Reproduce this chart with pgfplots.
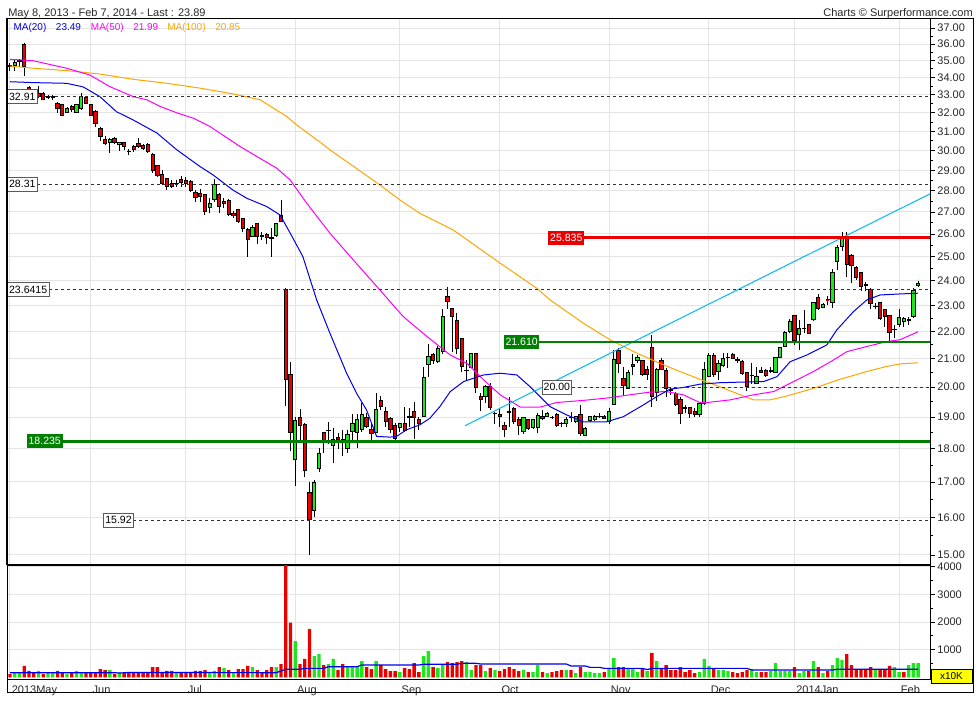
\documentclass[border=0pt]{standalone}
\usepackage{fontspec}
\setmainfont{Liberation Sans}
\usepackage{pgfplots}
\usepackage{pgfplotstable}
\pgfplotsset{compat=1.18}

\definecolor{upg}{RGB}{30,230,30}
\definecolor{dnr}{RGB}{235,0,0}
\definecolor{redline}{RGB}{235,0,0}
\definecolor{ma20}{RGB}{0,0,235}
\definecolor{ma50}{RGB}{255,0,255}
\definecolor{ma100}{RGB}{255,165,0}
\definecolor{cyanl}{RGB}{0,185,245}
\definecolor{gline}{RGB}{0,128,0}
\definecolor{gridc}{RGB}{228,228,228}
\definecolor{dashc}{RGB}{50,50,50}
\definecolor{boxb}{RGB}{90,90,90}
\definecolor{txt}{RGB}{40,40,40}
\definecolor{yel}{RGB}{255,255,0}

\pgfplotstableread{
i o h l c u
0 34.73 34.85 34.38 34.62 0
1 34.69 35.03 34.38 34.89 1
2 34.92 35.09 34.62 34.99 1
3 36.00 36.05 34.08 34.63 0
4 33.40 33.50 32.90 33.00 0
5 32.90 33.20 32.80 33.10 1
6 33.10 33.50 32.80 32.90 0
7 33.09 33.16 32.71 32.75 0
8 32.92 33.00 32.75 32.88 0
9 32.88 33.00 32.72 32.91 1
10 32.52 32.62 31.99 32.21 0
11 32.44 32.50 31.83 31.88 0
12 32.03 32.32 31.97 32.21 1
13 32.34 32.44 32.06 32.16 0
14 32.03 32.50 31.99 32.44 1
15 32.25 33.11 32.16 32.90 1
16 32.84 32.94 32.50 32.53 0
17 32.44 32.50 31.83 31.88 0
18 32.10 32.16 31.25 31.43 0
19 31.16 31.23 30.49 30.72 0
20 30.55 30.76 30.29 30.38 0
21 30.41 30.65 29.87 30.55 1
22 30.60 30.71 30.32 30.43 0
23 30.29 30.46 29.99 30.41 1
24 30.41 30.46 30.03 30.20 0
25 29.96 30.08 29.77 29.94 0
26 30.20 30.29 29.94 30.06 0
27 30.34 30.65 30.11 30.20 0
28 30.25 30.32 30.03 30.11 0
29 30.29 30.38 29.86 29.94 0
30 29.82 29.87 28.87 28.98 0
31 29.22 29.27 28.69 28.72 0
32 28.80 29.02 28.28 28.36 0
33 28.61 28.62 28.03 28.20 0
34 28.36 28.52 28.12 28.20 0
35 28.35 28.52 28.20 28.36 1
36 28.57 28.72 28.17 28.39 0
37 28.52 28.69 28.20 28.33 0
38 28.44 28.52 27.95 28.00 0
39 27.91 28.03 27.48 27.69 0
40 27.88 28.07 27.44 27.72 0
41 27.80 27.80 26.86 27.01 0
42 27.22 27.64 26.94 27.41 1
43 27.56 28.57 27.48 28.28 1
44 27.83 27.88 26.94 27.25 0
45 27.48 27.64 27.17 27.38 0
46 27.53 27.60 26.83 26.90 0
47 26.95 27.02 26.70 26.85 0
48 27.13 27.13 26.49 26.56 0
49 26.71 26.72 26.10 26.26 0
50 26.18 26.26 25.00 25.77 0
51 25.91 26.41 25.86 26.29 1
52 26.49 26.51 25.56 25.88 0
53 25.92 26.10 25.74 25.90 0
54 25.96 26.06 25.56 25.86 0
55 25.86 26.26 25.00 25.78 0
56 25.92 26.51 25.88 26.49 1
57 26.86 27.56 26.56 26.56 0
58 23.64 23.70 19.38 20.25 0
59 20.42 20.89 17.94 18.50 0
60 17.68 19.01 16.89 18.88 1
61 18.99 19.27 18.18 18.74 0
62 18.77 18.81 17.15 17.34 0
63 16.71 17.01 15.01 15.93 0
64 16.19 17.06 16.02 16.99 1
65 17.40 18.01 17.28 17.86 1
66 18.52 18.53 17.86 18.20 0
67 18.57 18.85 18.15 18.56 0
68 18.09 18.65 17.57 18.30 1
69 18.34 18.48 17.98 18.27 0
70 18.26 18.59 17.76 18.27 1
71 18.01 18.59 17.86 18.45 1
72 18.53 19.10 18.27 18.80 1
73 18.50 19.10 18.01 18.93 1
74 18.59 19.46 18.53 19.09 1
75 18.99 19.12 18.65 18.68 0
76 18.59 18.80 18.27 18.48 0
77 18.52 19.80 18.48 19.26 1
78 19.54 19.70 19.23 19.34 0
79 19.19 19.34 18.69 18.85 0
80 18.96 19.01 18.48 18.59 0
81 18.72 18.80 18.27 18.33 0
82 18.65 18.80 18.53 18.78 1
83 18.80 19.34 18.53 18.57 0
84 19.00 19.29 18.69 19.01 1
85 19.20 19.51 18.30 18.99 0
86 18.93 19.01 18.59 18.78 0
87 19.03 20.69 19.01 20.34 1
88 20.80 21.54 20.36 21.07 1
89 21.16 21.20 20.81 20.93 0
90 20.89 21.46 20.86 21.38 1
91 21.25 22.85 21.17 22.57 1
92 23.35 23.73 22.87 23.15 0
93 22.89 22.90 21.25 22.57 0
94 22.40 22.71 21.17 21.36 0
95 21.72 21.76 20.54 20.71 0
96 20.56 20.95 20.25 20.58 1
97 20.70 21.20 20.66 21.20 1
98 21.20 21.22 19.80 19.99 0
99 19.68 19.81 19.21 19.59 0
100 19.70 20.07 19.46 20.01 1
101 20.01 20.15 19.23 19.32 0
102 19.11 19.17 18.78 19.12 1
103 19.10 19.30 18.69 19.01 0
104 18.73 18.85 18.35 18.59 0
105 19.16 19.68 18.69 19.17 1
106 19.28 19.34 18.78 18.85 0
107 18.91 19.01 18.43 18.73 0
108 18.54 19.01 18.46 18.99 1
109 18.91 18.92 18.59 18.62 0
110 18.65 18.95 18.60 18.91 1
111 18.65 19.14 18.50 19.07 1
112 19.03 19.23 18.91 18.96 0
113 19.03 19.17 18.99 19.12 1
114 19.00 19.05 18.93 18.99 0
115 19.10 19.12 18.69 18.73 0
116 18.79 18.85 18.69 18.78 0
117 18.78 19.01 18.69 18.91 1
118 19.00 19.17 18.85 18.99 0
119 18.85 19.05 18.82 19.01 1
120 19.09 19.39 18.40 18.46 0
121 18.40 18.69 18.40 18.62 1
122 18.88 19.05 18.85 19.01 1
123 18.91 19.08 18.88 19.01 1
124 19.02 19.12 18.96 19.03 1
125 19.03 19.08 18.93 18.96 0
126 18.85 19.29 18.78 19.17 1
127 19.43 21.31 19.40 20.98 1
128 21.31 21.38 20.48 20.83 0
129 20.31 20.69 19.70 20.04 0
130 19.96 20.60 19.93 20.52 1
131 20.79 21.17 20.42 20.71 0
132 20.95 21.13 20.83 21.05 1
133 20.93 20.95 20.38 20.42 0
134 20.60 20.74 20.25 20.42 0
135 21.41 21.87 19.32 19.68 0
136 19.81 20.66 19.54 20.62 1
137 20.95 21.01 20.58 20.62 0
138 20.58 20.66 19.68 19.96 0
139 19.91 20.01 19.74 19.90 0
140 19.79 19.85 19.37 19.43 0
141 19.59 19.68 18.78 19.12 0
142 19.30 19.39 19.13 19.28 0
143 19.31 19.34 18.97 19.12 0
144 19.20 19.29 19.01 19.10 0
145 19.09 19.51 19.01 19.46 1
146 19.46 20.89 19.40 20.60 1
147 20.36 21.22 20.34 21.13 1
148 21.13 21.20 20.34 20.42 0
149 20.54 20.95 20.25 20.81 1
150 20.74 21.20 20.69 21.01 1
151 21.04 21.20 20.66 21.05 1
152 21.16 21.22 20.98 21.01 0
153 20.96 21.05 20.86 20.95 0
154 20.89 20.95 20.42 20.46 0
155 20.52 20.54 19.88 20.01 0
156 20.40 20.85 20.10 20.41 1
157 20.13 20.71 20.13 20.36 1
158 20.58 20.71 20.48 20.51 0
159 20.57 20.62 20.36 20.40 0
160 20.53 20.71 20.48 20.58 1
161 20.51 21.07 20.48 21.05 1
162 21.03 21.43 21.01 21.40 1
163 21.44 22.00 21.42 21.96 1
164 21.99 22.47 21.96 22.38 1
165 22.60 22.63 21.51 21.66 0
166 21.87 22.44 21.32 22.12 1
167 22.11 22.82 21.93 22.12 1
168 22.25 22.29 21.91 21.93 0
169 22.44 23.15 22.38 23.11 1
170 23.33 23.47 22.82 22.89 0
171 22.93 23.11 22.89 23.05 1
172 23.23 23.39 23.02 23.22 0
173 23.11 24.48 22.89 24.34 1
174 24.80 25.52 24.45 25.42 1
175 25.47 26.10 25.27 25.81 1
176 25.81 26.10 24.14 24.66 0
177 25.04 25.11 23.90 24.62 0
178 24.56 24.62 24.03 24.14 0
179 24.34 24.38 23.56 23.76 0
180 23.84 23.96 23.56 23.82 0
181 23.65 23.69 22.85 23.09 0
182 22.97 23.09 22.85 22.98 1
183 23.11 23.15 22.44 22.51 0
184 22.83 22.85 22.18 22.57 0
185 22.60 22.63 21.66 21.96 0
186 22.07 22.25 21.75 22.08 1
187 22.25 22.85 22.18 22.55 1
188 22.38 22.57 22.18 22.48 1
189 22.43 22.57 22.25 22.44 1
190 22.57 23.69 22.51 23.62 1
191 23.80 23.99 23.76 23.89 1
}\candles

\pgfplotstableread{
i v u
0 120 0
1 170 1
2 170 1
3 410 0
4 230 0
5 170 0
6 230 1
7 120 0
8 170 1
9 170 1
10 230 0
11 170 0
12 120 1
13 170 0
14 230 1
15 170 1
16 170 0
17 170 0
18 170 0
19 300 0
20 265 0
21 265 1
22 120 0
23 180 1
24 180 0
25 170 0
26 180 0
27 170 0
28 170 0
29 170 0
30 370 0
31 370 0
32 170 0
33 230 0
34 230 0
35 170 1
36 170 0
37 170 0
38 170 0
39 230 0
40 230 0
41 265 0
42 170 1
43 230 1
44 370 0
45 340 1
46 265 0
47 170 1
48 300 0
49 300 0
50 410 0
51 370 1
52 265 0
53 180 0
54 265 0
55 370 0
56 370 1
57 480 0
58 5000 0
59 1976 0
60 1313 1
61 480 0
62 663 0
63 1747 0
64 771 1
65 843 1
66 446 0
67 482 1
68 663 1
69 265 0
70 482 0
71 373 1
72 373 1
73 373 1
74 590 1
75 373 0
76 300 0
77 590 1
78 446 0
79 300 0
80 229 0
81 229 0
82 193 1
83 337 0
84 300 0
85 518 0
86 193 0
87 771 1
88 952 1
89 373 0
90 337 1
91 446 1
92 554 0
93 518 0
94 554 0
95 590 0
96 554 1
97 265 1
98 446 0
99 446 0
100 229 1
101 337 0
102 265 1
103 229 0
104 300 0
105 373 0
106 300 0
107 229 0
108 265 1
109 193 0
110 193 1
111 446 1
112 193 0
113 157 1
114 193 0
115 229 0
116 265 0
117 265 1
118 265 0
119 157 1
120 373 0
121 193 1
122 193 1
123 157 1
124 157 1
125 193 0
126 300 1
127 699 1
128 373 0
129 373 0
130 300 1
131 300 1
132 193 1
133 300 0
134 229 1
135 880 0
136 590 1
137 337 0
138 446 0
139 265 0
140 265 0
141 373 0
142 193 0
143 265 0
144 157 0
145 193 1
146 663 1
147 410 1
148 337 0
149 265 1
150 265 1
151 229 1
152 193 0
153 157 0
154 193 0
155 265 0
156 300 1
157 193 1
158 193 0
159 193 0
160 229 1
161 518 1
162 229 1
163 229 1
164 229 1
165 373 0
166 157 1
167 229 1
168 229 0
169 590 1
170 373 0
171 157 1
172 229 0
173 446 1
174 699 1
175 627 1
176 843 0
177 446 0
178 300 0
179 300 0
180 300 0
181 373 0
182 300 1
183 300 0
184 300 0
185 410 0
186 373 1
187 193 1
188 193 0
189 446 1
190 518 1
191 518 1
}\volumes

\tikzset{
  wbox/.style={draw=boxb, fill=white, text=black, line width=0.6pt, inner xsep=1.3pt, inner ysep=0pt, minimum height=10.5pt, font=\fontsize{7.9}{9}\selectfont},
  gbox/.style={fill=gline, text=white, inner xsep=1.3pt, inner ysep=0pt, minimum height=10.5pt, font=\fontsize{7.9}{9}\selectfont},
  rbox/.style={fill=redline, text=white, inner xsep=1.3pt, inner ysep=0pt, minimum height=10.5pt, font=\fontsize{7.9}{9}\selectfont},
}

\begin{document}
\begin{tikzpicture}[x=0.75pt,y=0.75pt]
\useasboundingbox (0,0) rectangle (980,700);
\begin{axis}[
  at={(5.25pt,101.25pt)}, anchor=south west, scale only axis,
  width=692.25pt, height=409.5pt,
  xmin=-0.63, xmax=193.5,
  ymode=log, ymin=14.745, ymax=37.58,
  xtick={0,17,37,60,82,103,126,147,165,187}, xticklabels={},
  xtick style={draw=none},
  ytick={15,16,17,18,19,20,21,22,23,24,25,26,27,28,29,30,31,32,33,34,35,36,37},
  yticklabels={15.00,16.00,17.00,18.00,19.00,20.00,21.00,22.00,23.00,24.00,25.00,26.00,27.00,28.00,29.00,30.00,31.00,32.00,33.00,34.00,35.00,36.00,37.00},
  minor ytick={15.5,16.5,17.5,18.5,19.5,20.5,21.5,22.5,23.5,24.5,25.5,26.5,27.5,28.5,29.5,30.5,31.5,32.5,33.5,34.5,35.5,36.5},
  ytick pos=right, yticklabel pos=right, tick align=outside,
  ytick style={draw=black, line width=0.6pt},
  major tick length=3.5pt, minor tick length=2pt,
  grid=major, major grid style={draw=gridc, line width=0.75pt},
  axis line style={black, line width=0.75pt},
  yticklabel style={font=\fontsize{8.25}{9}\selectfont, text=txt, anchor=west, xshift=-1.5pt},
]
% candlesticks: one wick and one body per row of the table
\pgfplotsforeachungrouped \k in {0,...,191}{%
  \pgfplotstablegetelem{\k}{o}\of\candles \let\vo=\pgfplotsretval
  \pgfplotstablegetelem{\k}{h}\of\candles \let\vh=\pgfplotsretval
  \pgfplotstablegetelem{\k}{l}\of\candles \let\vl=\pgfplotsretval
  \pgfplotstablegetelem{\k}{c}\of\candles \let\vc=\pgfplotsretval
  \pgfplotstablegetelem{\k}{u}\of\candles \let\vu=\pgfplotsretval
  \ifnum\vu=1\relax\def\fc{upg}\else\def\fc{dnr}\fi
  \pgfmathsetmacro\xa{\k-0.345}%
  \pgfmathsetmacro\xb{\k+0.345}%
  \edef\tmp{%
    \noexpand\addplot[forget plot, black, line width=0.75pt] coordinates {(\k,\vl) (\k,\vh)};
    \noexpand\addplot[forget plot, draw=black, fill=\fc, line width=0.7pt] coordinates {(\xa,\vo) (\xb,\vo) (\xb,\vc) (\xa,\vc)} --cycle;
  }%
  \tmp
}

% moving averages
\addplot[ma100, line width=0.75pt] coordinates {(0,34.67) (4.9,34.54) (11.9,34.40) (18.9,34.20) (25.9,33.89) (33.0,33.66) (40.0,33.38) (47,33.05) (52.6,32.72) (58.2,31.80) (60.3,31.34) (65.2,30.43) (67.3,30.03) (77.8,28.28) (82.0,27.56) (86.2,26.94) (93.2,26.18) (103.1,24.73) (110.8,23.69) (113.6,23.22) (120.6,22.31) (126.2,21.69) (131.8,21.20) (137.4,20.78) (140.9,20.54) (145.1,20.27) (149.3,20.01) (153.6,19.74) (156.4,19.57) (159.9,19.57) (163.4,19.70) (169.0,19.96) (174.6,20.27) (180.2,20.54) (184.4,20.72) (187.2,20.81) (191,20.85)};
\addplot[ma50, line width=0.75pt] coordinates {(0,35.07) (4.8,34.99) (11.9,34.54) (16.8,34.14) (21.0,33.47) (25.9,32.90) (28.8,32.72) (31.6,32.35) (35.1,32.00) (38.6,31.70) (42.1,31.25) (48.4,30.20) (56.1,29.10) (58.9,28.53) (62.4,27.41) (67.3,26.03) (72.2,24.87) (77.8,23.62) (82.7,22.57) (87.7,21.81) (92.6,21.13) (96.1,20.83) (99.6,20.25) (103.1,19.74) (107.3,19.33) (111.5,19.33) (115.0,19.48) (120.6,19.55) (125.5,19.63) (130.4,19.74) (134.6,19.83) (138.1,19.85) (141.6,19.74) (145.1,19.48) (146.6,19.48) (151.5,19.57) (156.4,19.74) (160.6,19.85) (164.8,20.19) (169.0,20.54) (173.2,20.95) (176.0,21.25) (180.2,21.44) (184.4,21.62) (187.2,21.69) (191,21.99)};
\addplot[ma20, line width=0.75pt] coordinates {(0,33.75) (4.8,33.70) (11.9,33.66) (15.4,33.45) (18.9,32.90) (22.4,32.06) (25.9,31.61) (30.9,30.91) (35.1,30.03) (40.0,29.18) (42.7,28.77) (46.9,28.03) (49.8,27.64) (54.0,27.25) (56.8,26.86) (58.9,26.05) (61.6,25.01) (64.5,23.22) (67.3,21.93) (70.8,20.48) (72.9,19.79) (75.0,19.23) (77.1,18.38) (79.9,18.36) (81.3,18.38) (83.4,18.59) (86.2,18.75) (88.3,18.96) (90.4,19.34) (92.6,19.85) (95.4,20.19) (99.6,20.42) (103.1,20.48) (106.6,20.42) (109.4,20.01) (113.6,19.34) (117.1,19.07) (120.6,18.85) (125.5,18.85) (129.0,19.01) (133.2,19.40) (136.0,19.68) (138.8,19.93) (141.6,19.99) (145.1,20.10) (149.3,20.15) (153.6,20.17) (158.5,20.19) (161.3,20.36) (164.1,20.89) (167.6,21.13) (171.8,21.50) (173.9,22.06) (177.4,22.76) (180.2,23.22) (183.0,23.42) (187.2,23.46) (191,23.49)};

% trend line
\addplot[cyanl, line width=0.75pt] coordinates {(95.7,18.72) (193.5,27.85)};

% dashed reference lines
\addplot[dashc, line width=0.75pt, dash pattern=on 2.25pt off 2.25pt] coordinates {(-0.63,32.91) (193.5,32.91)};
\addplot[dashc, line width=0.75pt, dash pattern=on 2.25pt off 2.25pt] coordinates {(-0.63,28.31) (193.5,28.31)};
\addplot[dashc, line width=0.75pt, dash pattern=on 2.25pt off 2.25pt] coordinates {(-0.63,23.6415) (193.5,23.6415)};
\addplot[dashc, line width=0.75pt, dash pattern=on 2.25pt off 2.25pt] coordinates {(19.6,15.92) (193.5,15.92)};
\addplot[dashc, line width=0.75pt, dash pattern=on 2.25pt off 2.25pt] coordinates {(111.8,20.00) (193.5,20.00)};
% solid reference lines
\addplot[gline, line width=2.25pt] coordinates {(3.5,18.235) (193.5,18.235)};
\addplot[gline, line width=1.2pt] coordinates {(103.8,21.61) (193.5,21.61)};
\addplot[redline, line width=2pt] coordinates {(113.2,25.835) (193.5,25.835)};

% label boxes
\node[wbox, anchor=west] at (axis cs:-0.63,32.91) {32.91};
\node[wbox, anchor=west] at (axis cs:-0.63,28.31) {28.31};
\node[wbox, anchor=west] at (axis cs:-0.63,23.6415) {23.6415};
\node[wbox, anchor=west] at (axis cs:19.6,15.92) {15.92};
\node[wbox, anchor=west] at (axis cs:111.8,20.00) {20.00};
\node[gbox, anchor=west] at (axis cs:3.5,18.235) {18.235};
\node[gbox, anchor=west] at (axis cs:103.8,21.61) {21.610};
\node[rbox, anchor=west] at (axis cs:113.2,25.835) {25.835};
\end{axis}

\begin{axis}[
  at={(5.25pt,15.75pt)}, anchor=south west, scale only axis,
  width=692.25pt, height=85.5pt,
  xmin=-0.63, xmax=193.5, ymin=-60, ymax=4060,
  xtick={0,17,37,60,82,103,126,147,165,187},
  xticklabels={2013May,Jun,Jul,Aug,Sep,Oct,Nov,Dec,2014Jan,Feb},
  xtick style={draw=none},
  xticklabel style={font=\fontsize{8.25}{9}\selectfont, text=txt, anchor=north west, inner sep=0pt, xshift=1.2pt, yshift=-1.5pt},
  ytick={1000,2000,3000,4000}, yticklabels={1000,2000,3000,4000},
  minor ytick={500,1500,2500,3500},
  ytick pos=right, yticklabel pos=right, tick align=outside,
  ytick style={draw=black, line width=0.6pt},
  major tick length=3.5pt, minor tick length=2pt,
  grid=major, major grid style={draw=gridc, line width=0.75pt},
  axis line style={black, line width=0.75pt},
  yticklabel style={font=\fontsize{8.25}{9}\selectfont, text=txt, anchor=west, xshift=-1.5pt},
]
\addplot[forget plot, ybar, bar width=2.5pt, bar shift=0pt, fill=dnr, draw=none] table[x=i, y expr={\thisrow{u}==0 ? \thisrow{v} : 0}] {\volumes};
\addplot[forget plot, ybar, bar width=2.5pt, bar shift=0pt, fill=upg, draw=none] table[x=i, y expr={\thisrow{u}==1 ? \thisrow{v} : 0}] {\volumes};
\addplot[ma20, line width=0.9pt] coordinates {(0,169) (22,169) (23,155) (25,175) (56,169) (57,230) (58,289) (61,289) (62,325) (66,325) (67,386) (73,386) (74,446) (86,446) (87,470) (94,470) (95,506) (98,506) (99,482) (117,482) (118,410) (121,410) (122,361) (124,361) (125,325) (133,325) (134,280) (135,325) (155,325) (156,265) (173,265) (174,289) (191,289)};
\end{axis}

\draw[line width=0.75pt] (7,8) rectangle (973,681);
\node[fill=yel, draw=black, line width=0.5pt, minimum width=30.75pt, minimum height=10.5pt, inner sep=0pt, font=\fontsize{7.5}{9}\selectfont] at (951.5,24) {x10K};

\node[anchor=base west, inner sep=0pt, font=\fontsize{8.25}{10}\selectfont, text=txt] at (8,683.5) {May 8, 2013 - Feb 7, 2014 - Last : 23.89};
\node[anchor=base east, inner sep=0pt, font=\fontsize{8.25}{10}\selectfont, text=txt] at (973,683.5) {Charts © Surperformance.com};

\node[anchor=base west, inner sep=0pt, font=\fontsize{7.5}{9}\selectfont, text=ma20] at (13.3,669.5) {MA(20)};
\node[anchor=base west, inner sep=0pt, font=\fontsize{7.5}{9}\selectfont, text=ma20] at (55.7,669.5) {23.49};
\node[anchor=base west, inner sep=0pt, font=\fontsize{7.5}{9}\selectfont, text=ma50] at (90.7,669.5) {MA(50)};
\node[anchor=base west, inner sep=0pt, font=\fontsize{7.5}{9}\selectfont, text=ma50] at (133,669.5) {21.99};
\node[anchor=base west, inner sep=0pt, font=\fontsize{7.5}{9}\selectfont, text=ma100] at (167,669.5) {MA(100)};
\node[anchor=base west, inner sep=0pt, font=\fontsize{7.5}{9}\selectfont, text=ma100] at (215,669.5) {20.85};
\end{tikzpicture}
\end{document}
